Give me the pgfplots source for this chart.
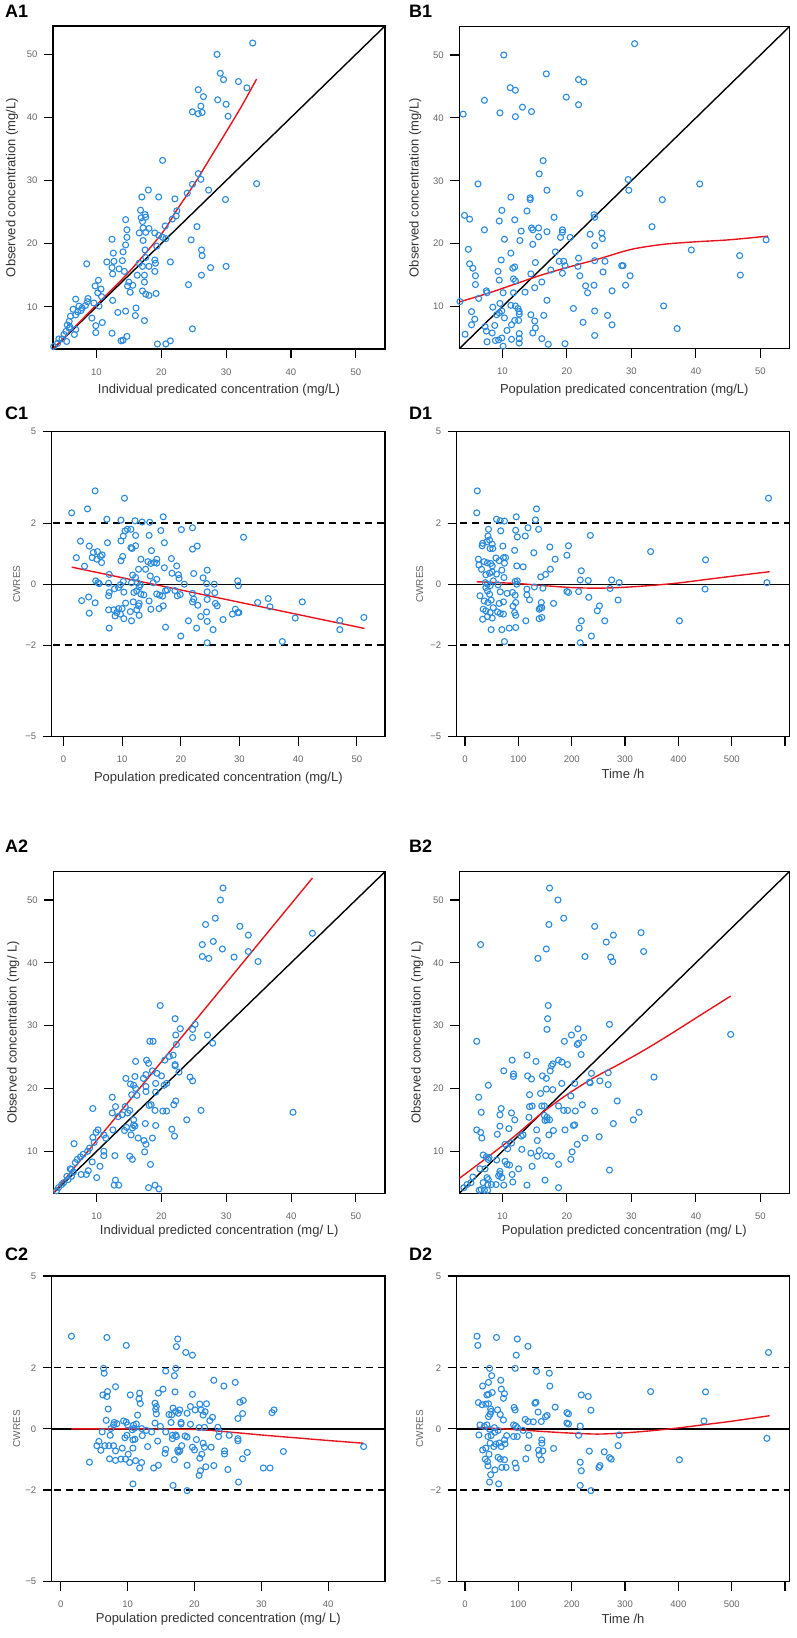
\documentclass[border=0pt]{standalone}
\usepackage{fontspec}
\setmainfont{Liberation Sans}
\usepackage{pgfplots}
\pgfplotsset{compat=1.18}
\definecolor{ptblue}{HTML}{2B8BE0}
\definecolor{fitred}{HTML}{E8141B}
\definecolor{tickgray}{HTML}{666666}
\definecolor{labgray}{HTML}{333333}
\pgfplotsset{
 base/.style={scale only axis, anchor=north west,
   axis line style={line width=1.4pt},
   every tick/.style={black,line width=1.1pt},
   tick align=outside, tick pos=left, major tick length=9pt,
   /pgf/number format/assume math mode=true,
   ticklabel style={font=\fontsize{9.5}{10}\selectfont, text=tickgray},
   xticklabel style={yshift=-7pt}, yticklabel style={xshift=-3pt},
   label style={font=\fontsize{13}{15}\selectfont, text=labgray},
   clip=true},
 obs/.style={base, xmin=3.3,xmax=54.5,ymin=3.3,ymax=54.5,
   xtick={10,20,30,40,50}, ytick={10,20,30,40,50}},
 res/.style={base, ymin=-5,ymax=5, ytick={-5,-2,0,2,5},
   yticklabels={−5,−2,0,2,5},
   ylabel={CWRES}, ylabel style={font=\fontsize{10}{10}\selectfont, text=tickgray}},
 xlab/.style={xlabel style={at={([yshift=-#1]axis description cs:0.5,0)}, anchor=center}},
 ylab/.style={ylabel style={at={([xshift=-#1]axis description cs:0,0.5)}, anchor=center}},
 pts/.style={only marks, mark=o, mark size=3pt, mark options={draw=ptblue, line width=1.1pt}},
 fit/.style={fitred, line width=1.4pt, smooth, no marks},
 idl/.style={black, line width=1.4pt, no marks},
 zero/.style={black, line width=1.3pt, no marks},
 lim/.style={black, line width=1.5pt, dash pattern=on 7pt off 5pt, no marks}
}
\newcommand{\plabel}[3]{\node[anchor=north west, inner sep=0pt, font=\fontsize{18}{18}\selectfont\bfseries] at (#1pt,-#2pt) {#3};}
\begin{document}
\begin{tikzpicture}
\path (0pt,0pt) rectangle (797pt,-1638pt);
\plabel{5}{5}{A1}
\plabel{409}{5}{B1}
\plabel{5}{407}{C1}
\plabel{409}{407}{D1}
\plabel{5}{840}{A2}
\plabel{409}{840}{B2}
\plabel{5}{1248}{C2}
\plabel{409}{1248}{D2}

% A1
\begin{axis}[obs, at={(53pt,-26pt)}, width=332pt, height=323pt,
 xlabel={Individual predicated concentration (mg/L)}, ylabel={Observed concentration (mg/L)},
 xlab=41pt, ylab=41pt]
\addplot[idl] coordinates {(0,0)(60,60)};
\addplot[pts] coordinates {
(34.1,51.8)(28.6,50.0)(29.1,47.0)(29.6,46.0)(31.9,45.7)(33.2,44.7)(25.7,44.4)(26.5,43.3)(28.7,42.8)(30.0,42.1)
(26.1,41.8)(24.8,40.9)(25.7,40.6)(26.3,40.8)(30.3,40.2)(20.2,33.2)(25.7,31.1)(26.1,30.2)(24.8,29.4)(34.7,29.5)
(27.3,28.5)(24.0,28.0)(18.0,28.5)(17.0,27.4)(19.6,27.4)(22.1,27.1)(29.9,27.0)(22.4,25.2)(22.3,24.4)(16.8,25.3)
(14.5,23.8)(21.7,23.9)(17.5,24.6)(17.6,24.2)(16.9,24.1)(17.1,23.5)(14.7,22.2)(17.2,22.5)(18.1,22.4)(16.6,21.7)
(17.6,21.8)(25.5,22.7)(20.6,22.8)(19.0,21.7)(19.6,21.3)(20.2,21.0)(20.7,20.8)(14.7,21.0)(12.4,20.7)(17.2,20.5)
(24.6,20.6)(14.5,19.8)(17.5,19.0)(26.2,19.0)(19.3,19.6)(12.6,18.5)(14.1,18.7)(26.3,18.1)(12.7,17.2)(14.0,17.3)
(11.6,17.1)(8.5,16.8)(17.6,17.8)(19.0,17.4)(19.1,16.9)(21.4,17.1)(16.6,16.9)(17.1,16.4)(18.1,16.4)(30.0,16.4)
(27.6,16.2)(12.4,16.2)(13.5,16.0)(14.3,15.6)(19.0,15.6)(16.3,15.0)(17.4,15.0)(26.2,15.0)(12.5,15.2)(10.3,14.2)
(15.0,13.9)(17.4,13.9)(9.8,13.3)(15.6,13.4)(14.8,13.3)(24.2,13.5)(10.7,12.8)(17.1,12.5)(15.2,12.3)(17.6,12.0)
(18.1,11.8)(19.2,12.1)(10.2,12.2)(12.5,11.0)(6.8,11.2)(8.7,11.3)(8.3,10.2)(7.8,9.8)(7.6,9.4)(7.1,9.2)
(9.6,10.6)(9.3,8.2)(13.3,9.1)(14.5,9.3)(16.1,9.8)(16.0,8.6)(17.4,7.8)(9.9,7.0)(10.9,7.5)(6.4,9.6)
(6.8,8.7)(6.0,8.5)(5.8,7.7)(5.5,7.1)(5.9,6.8)(6.8,6.4)(6.6,5.6)(5.4,4.5)(9.9,5.9)(12.4,5.8)
(14.7,5.3)(24.8,6.5)(13.8,4.6)(14.1,4.7)(19.4,4.1)(20.7,4.1)(21.4,4.6)(4.2,4.9)(4.7,4.9)(4.0,4.2)
(3.4,3.7)(8.9,3.2)(6.0,3.2)(5.0,5.6)(5.3,6.1)(5.8,6.6)(7.3,10.1)(8.6,10.8)(10.4,10.1)(10.8,11.6)
};
\addplot[fit] coordinates {(3.3,3.3)(10,10.3)(15,15.5)(20,21.5)(22.5,25.5)(25,29.3)(27.5,33.5)(30,37.7)(32.5,42)(34.7,46.1)};
\end{axis}

% B1
\begin{axis}[obs, at={(459.3pt,-26.7pt)}, width=330pt, height=322pt,
 xlabel={Population predicated concentration (mg/L)}, ylabel={Observed concentration (mg/L)},
 xlab=41pt, ylab=44pt]
\addplot[idl] coordinates {(0,0)(60,60)};
\addplot[pts] coordinates {
(30.5,51.8)(10.2,50.0)(16.8,47.0)(21.8,46.1)(22.6,45.7)(11.2,44.8)(12.0,44.4)(7.2,42.8)(19.9,43.3)(21.8,42.1)
(13.1,41.7)(3.9,40.6)(9.6,40.8)(14.5,41.0)(12.0,40.2)(16.3,33.2)(15.7,31.1)(6.2,29.5)(29.5,30.2)(29.6,28.5)
(40.6,29.5)(16.9,28.5)(22.0,28.0)(11.3,27.4)(14.3,27.3)(14.3,27.0)(34.8,27.0)(9.9,25.3)(13.8,25.2)(4.1,24.5)
(4.9,23.9)(9.5,23.6)(11.9,23.8)(18.0,24.2)(24.2,24.6)(24.3,24.2)(7.2,22.2)(12.9,22.0)(14.5,22.5)(14.7,22.2)
(15.6,22.5)(16.9,21.9)(19.3,22.2)(19.3,21.8)(33.2,22.7)(10.3,20.7)(12.7,20.5)(15.6,21.1)(19.0,21.0)(20.5,21.0)
(23.6,21.5)(25.4,21.7)(25.5,20.8)(50.9,20.6)(4.7,19.1)(14.7,19.9)(24.3,19.7)(39.3,19.0)(9.8,17.4)(11.3,18.5)
(15.1,17.0)(18.2,18.7)(18.8,17.2)(19.5,17.2)(19.7,16.5)(21.8,17.7)(25.9,17.2)(24.3,17.3)(46.8,18.1)(4.9,16.8)
(5.4,16.1)(9.3,15.6)(11.6,16.1)(11.9,16.3)(14.4,15.2)(17.5,15.8)(19.3,15.3)(21.7,16.4)(25.6,15.5)(28.5,16.5)
(28.7,16.5)(46.9,15.0)(5.8,14.9)(9.5,14.2)(11.7,14.4)(12.0,14.1)(16.1,13.9)(22.0,14.9)(29.8,14.9)(5.8,13.5)
(15.0,13.0)(22.9,13.3)(24.2,13.4)(29.1,13.4)(7.5,12.5)(7.6,12.2)(10.1,12.2)(11.7,12.2)(13.5,12.3)(23.2,12.2)
(27.0,12.5)(3.4,10.8)(6.3,11.3)(16.9,11.0)(8.5,9.9)(9.6,10.5)(9.9,9.3)(11.3,10.2)(12.0,10.1)(12.4,9.7)
(12.6,9.2)(12.6,8.8)(5.2,9.2)(21.0,9.7)(24.3,9.3)(35.0,10.1)(9.1,8.7)(9.5,9.0)(10.3,8.2)(14.4,8.7)
(16.4,8.6)(26.3,8.6)(5.7,8.0)(5.2,7.1)(11.9,7.8)(12.5,7.8)(15.0,7.7)(22.5,7.5)(7.3,6.8)(7.5,6.1)
(8.8,7.0)(11.4,7.1)(15.1,6.6)(27.0,7.1)(37.1,6.5)(4.2,5.6)(7.6,4.4)(8.4,5.8)(8.9,4.6)(9.4,4.7)
(9.9,5.0)(10.1,3.7)(10.7,6.2)(11.4,4.8)(12.6,5.7)(12.6,4.9)(12.6,4.2)(14.7,5.8)(16.1,4.9)(17.1,4.0)
(19.7,4.1)(24.3,5.4)(4.2,3.2)(4.9,3.2)(11.8,3.2)
};
\addplot[fit] coordinates {(3.2,10.7)(8,12.2)(12,13.6)(16,15.0)(20,16.2)(25,17.6)(30,19.1)(35,19.9)(40,20.3)(45,20.6)(51.2,21.2)};
\end{axis}

% C1
\begin{axis}[res, at={(51.7pt,-431.7pt)}, width=333.3pt, height=305pt,
 xmin=-2, xmax=54.8, xtick={0,10,20,30,40,50},
 xlabel={Population predicated concentration (mg/L)}, xlab=41pt, ylab=35pt]
\addplot[zero] coordinates {(-10,0)(100,0)};
\addplot[lim] coordinates {(-10,2)(100,2)};
\addplot[lim] coordinates {(-10,-2)(100,-2)};
\addplot[pts] coordinates {
(5.4,3.06)(10.4,2.82)(1.4,2.34)(4.1,2.47)(7.4,2.13)(9.8,2.10)(12.2,2.08)(13.4,2.04)(14.7,2.03)(17.0,2.21)
(10.5,1.75)(10.9,1.80)(11.5,1.80)(12.3,1.60)(14.6,1.60)(16.6,1.76)(20.1,1.79)(22.0,1.85)(30.7,1.54)(2.9,1.41)
(4.4,1.25)(7.5,1.36)(9.8,1.42)(10.2,1.58)(11.5,1.20)(11.7,1.17)(12.3,1.26)(15.0,1.10)(17.2,1.36)(22.0,1.15)
(22.8,1.25)(2.2,0.87)(5.1,1.04)(5.8,1.07)(6.3,0.91)(6.6,0.96)(4.9,0.87)(5.7,0.82)(6.5,0.71)(10.1,0.91)
(9.8,0.77)(13.2,0.82)(14.4,0.74)(14.9,0.68)(15.9,0.82)(15.9,0.69)(15.5,0.71)(18.4,0.84)(3.6,0.59)(12.8,0.49)
(14.0,0.49)(17.2,0.54)(19.3,0.60)(18.5,0.36)(19.6,0.31)(19.7,0.19)(22.2,0.35)(23.8,0.21)(24.5,0.46)(7.8,0.32)
(11.8,0.30)(12.3,0.22)(14.8,0.27)(15.9,0.16)(5.5,0.11)(5.9,0.05)(6.1,0.02)(7.7,0.03)(10.2,0.09)(9.7,-0.02)
(11.6,0.05)(12.6,0.05)(12.9,-0.09)(13.1,-0.02)(15.3,0.05)(20.6,0)(24.4,0.02)(25.7,0)(29.7,0.11)(29.8,-0.05)
(8.7,-0.15)(9.4,-0.11)(10.3,-0.26)(12.0,-0.27)(12.5,-0.22)(7.8,-0.27)(7.7,-0.38)(13.7,-0.35)(13.2,-0.32)(15.9,-0.32)
(16.4,-0.36)(16.9,-0.39)(17.4,-0.21)(17.7,-0.19)(19.0,-0.21)(19.9,-0.34)(19.4,-0.38)(22.0,-0.30)(22.2,-0.49)(22.0,-0.58)
(24.5,-0.25)(24.5,-0.50)(25.8,-0.28)(3.1,-0.54)(4.3,-0.42)(5.4,-0.61)(11.9,-0.58)(12.9,-0.63)(12.8,-0.71)(10.6,-0.62)
(14.6,-0.55)(22.9,-0.69)(25.9,-0.63)(26.2,-0.71)(33.1,-0.60)(34.9,-0.47)(35.2,-0.74)(40.7,-0.58)(4.4,-0.95)(7.7,-0.84)
(8.6,-0.84)(9.1,-0.93)(9.4,-0.80)(10.0,-0.80)(8.8,-1.04)(9.7,-0.98)(10.3,-1.13)(11.4,-0.90)(12.5,-0.84)(12.9,-1.02)
(11.6,-1.20)(14.9,-0.82)(16.3,-0.80)(17.0,-0.71)(23.4,-1.06)(21.3,-1.20)(24.4,-0.91)(24.5,-1.22)(27.2,-1.16)(28.8,-0.98)
(29.3,-0.82)(29.7,-0.93)(29.9,-0.93)(39.5,-1.11)(47.1,-1.19)(51.2,-1.09)(7.8,-1.44)(17.4,-1.41)(22.7,-1.44)(25.5,-1.49)
(47.1,-1.49)(20.0,-1.70)(24.5,-1.92)(37.3,-1.88)
};
\addplot[fit] coordinates {(1.4,0.56)(51.3,-1.45)};
\end{axis}

% D1
\begin{axis}[res, at={(456.7pt,-431.7pt)}, width=332.6pt, height=305pt,
 xmin=-15.6, xmax=608, xtick={0,100,200,300,400,500,600}, xticklabels={0,100,200,300,400,500,},
 xlabel={Time /h}, xlab=37pt, ylab=37pt]
\addplot[zero] coordinates {(-100,0)(700,0)};
\addplot[lim] coordinates {(-100,2)(700,2)};
\addplot[lim] coordinates {(-100,-2)(700,-2)};
\addplot[pts] coordinates {
(23,3.06)(569,2.82)(22,2.34)(134,2.47)(59,2.13)(66,2.08)(74,2.07)(96,2.21)(132,2.11)(44,1.80)
(67,1.75)(95,1.77)(118,1.85)(138,1.80)(43,1.58)(46,1.45)(98,1.55)(113,1.58)(235,1.60)(33,1.34)
(32,1.26)(41,1.39)(51,1.31)(47,1.17)(52,1.17)(71,1.25)(93,1.11)(129,1.03)(159,1.22)(194,1.26)
(191,0.95)(348,1.07)(25,0.82)(26,0.63)(36,0.74)(42,0.70)(31,0.49)(48,0.68)(51,0.60)(58,0.86)
(64,0.77)(72,0.87)(76,0.87)(74,0.69)(69,0.46)(97,0.60)(109,0.57)(169,0.82)(160,0.49)(151,0.32)
(142,0.24)(218,0.44)(451,0.80)(39,0.31)(46,0.36)(51,0.40)(59,0.33)(73,0.22)(94,0.09)(98,0.11)
(216,0.14)(231,0.12)(275,0.14)(289,0.05)(566,0.05)(38,0.05)(42,0)(47,-0.05)(53,0.11)(62,-0.02)
(97,0)(39,-0.11)(42,-0.22)(46,-0.33)(28,-0.38)(66,-0.25)(79,-0.30)(89,-0.27)(94,-0.36)(116,-0.16)
(116,-0.35)(130,-0.09)(146,-0.13)(191,-0.24)(194,-0.27)(213,-0.24)(272,-0.14)(450,-0.16)(36,-0.55)(43,-0.60)
(49,-0.52)(64,-0.63)(72,-0.58)(90,-0.72)(95,-0.60)(121,-0.51)(143,-0.60)(166,-0.63)(232,-0.43)(287,-0.52)
(34,-0.82)(39,-0.87)(47,-0.93)(53,-0.77)(61,-0.91)(66,-0.96)(72,-0.98)(93,-0.93)(95,-1.02)(139,-0.82)
(141,-0.78)(144,-0.77)(252,-0.71)(248,-0.87)(33,-1.15)(42,-1.06)(51,-1.11)(139,-1.13)(144,-1.09)(114,-1.20)
(218,-1.20)(262,-1.20)(402,-1.20)(49,-1.49)(69,-1.49)(83,-1.44)(95,-1.42)(214,-1.44)(237,-1.70)(74,-1.88)
(216,-1.92)
};
\addplot[fit] coordinates {(22,0.08)(50,0.06)(100,0.02)(150,-0.05)(200,-0.11)(250,-0.13)(300,-0.10)(350,-0.04)(400,0.04)(450,0.15)(500,0.26)(571,0.41)};
\end{axis}

% A2
\begin{axis}[obs, at={(53.3pt,-871.7pt)}, width=331.7pt, height=321.6pt,
 xlabel={Individual predicted concentration (mg/ L)}, ylabel={Observed concentration (mg/ L)},
 xlab=38pt, ylab=40pt]
\addplot[idl] coordinates {(0,0)(60,60)};
\addplot[pts] coordinates {
(29.5,51.9)(29.1,50.0)(28.3,47.1)(26.8,46.1)(32.1,45.8)(33.4,44.4)(43.3,44.7)(28.0,43.4)(26.3,42.9)(29.4,42.2)
(33.4,41.8)(26.3,41.0)(27.3,40.7)(31.2,40.9)(34.9,40.2)(19.8,33.2)(22.1,31.1)(25.2,30.2)(22.9,29.5)(24.8,29.4)
(22.2,28.5)(27.1,28.5)(24.8,28.1)(27.9,27.2)(22.3,27.0)(18.2,27.5)(18.7,27.5)(21.2,25.1)(21.8,25.3)(20.5,24.5)
(22.1,23.8)(22.1,23.6)(17.7,24.5)(18.0,24.0)(16.0,24.3)(22.7,22.6)(18.6,22.8)(19.3,22.4)(15.9,21.9)(17.6,22.2)
(17.2,21.6)(14.5,21.6)(20.0,22.0)(24.4,21.8)(24.8,21.2)(15.2,20.7)(15.7,20.5)(20.4,20.5)(20.8,20.8)(16.0,20.0)
(16.2,18.9)(17.6,20.3)(17.6,19.5)(15.4,19.0)(19.1,20.8)(12.4,18.6)(19.1,19.4)(21.9,17.4)(22.2,18.0)(18.1,17.3)
(18.4,17.4)(12.9,17.1)(14.4,17.1)(9.4,16.8)(12.4,16.1)(19.0,16.5)(20.2,16.4)(20.8,16.4)(26.1,16.5)(40.3,16.2)
(13.3,15.5)(13.9,15.8)(14.8,16.1)(15.1,16.5)(15.7,15.0)(15.7,14.2)(15.9,14.0)(17.5,14.4)(19.1,14.1)(23.9,15.0)
(14.3,13.3)(14.6,13.8)(12.5,13.4)(15.3,12.6)(15.5,13.7)(16.4,12.1)(18.6,12.1)(21.6,13.5)(22.0,12.4)(10.2,13.4)
(9.9,13.0)(11.1,12.6)(11.4,12.1)(17.3,11.7)(17.6,11.1)(9.4,12.2)(9.6,11.4)(6.5,11.2)(17.4,9.9)(8.9,10.5)
(8.6,10.0)(11.1,10.0)(11.1,9.3)(12.8,9.3)(15.1,9.2)(15.5,8.7)(9.3,8.3)(7.9,9.5)(7.5,9.1)(7.0,8.7)
(6.7,8.2)(6.1,7.1)(5.9,7.2)(10.5,7.6)(18.3,7.9)(8.7,6.9)(8.4,6.3)(7.6,6.3)(6.4,6.7)(6.1,6.0)
(10.0,5.8)(5.4,6.0)(5.6,5.5)(4.9,5.0)(4.6,4.7)(4.1,4.2)(3.8,3.7)(12.9,5.4)(12.7,4.6)(13.4,4.6)
(18.0,4.2)(19.0,4.6)(19.6,4.0)(8.6,3.1)
};
\addplot[fit] coordinates {(3.3,3.3)(43.3,53.5)};
\end{axis}

% B2
\begin{axis}[obs, at={(459.3pt,-871.7pt)}, width=330pt, height=321.6pt,
 xlabel={Population predicted concentration (mg/ L)}, ylabel={Observed concentration (mg/ L)},
 xlab=38pt, ylab=42pt]
\addplot[idl] coordinates {(0,0)(60,60)};
\addplot[pts] coordinates {
(17.3,51.9)(18.6,50.0)(19.5,47.1)(17.2,46.1)(24.3,45.8)(31.5,44.8)(27.2,44.4)(26.1,43.3)(6.6,42.9)(16.8,42.2)
(31.9,41.8)(22.8,41.0)(15.5,40.7)(26.8,40.9)(27.1,40.2)(17.1,33.2)(17.0,31.1)(16.9,29.4)(26.6,30.2)(21.7,29.5)
(20.7,28.5)(22.6,28.1)(45.4,28.6)(6.0,27.5)(19.6,27.5)(21.6,27.0)(21.8,27.2)(22.2,25.4)(11.5,24.5)(13.8,25.3)
(15.2,24.3)(18.7,24.5)(19.2,24.2)(20.1,23.8)(17.6,23.6)(17.8,23.9)(10.2,22.8)(11.7,22.3)(11.7,21.9)(13.9,22.0)
(14.5,21.5)(16.2,22.0)(16.8,21.6)(17.4,22.8)(23.8,22.4)(23.5,21.0)(23.6,20.9)(25.1,21.2)(26.4,22.5)(26.4,20.6)
(33.5,21.8)(7.8,20.5)(19.2,20.8)(21.2,20.8)(16.8,19.9)(17.8,19.8)(14.2,19.0)(14.2,17.1)(15.9,19.2)(6.3,18.6)
(14.6,17.2)(16.1,17.2)(16.5,17.2)(18.7,17.2)(20.6,18.8)(22.4,17.4)(27.8,18.0)(6.7,16.2)(9.8,16.8)(9.6,15.8)
(11.4,16.1)(11.9,15.0)(14.1,15.4)(16.5,15.7)(16.9,15.4)(16.6,14.9)(16.9,15.0)(17.3,15.0)(19.5,16.5)(20.1,16.5)
(21.3,16.4)(24.3,16.4)(31.2,16.2)(30.3,15.0)(6.0,13.4)(6.6,13.0)(6.8,12.1)(9.2,12.7)(9.6,14.0)(11.0,13.6)
(12.9,12.4)(13.2,12.6)(15.3,13.4)(15.4,11.7)(17.2,12.6)(17.9,13.3)(19.7,13.4)(21.0,14.1)(21.2,14.2)(22.8,12.1)
(25.0,12.3)(27.2,14.4)(11.4,11.3)(10.4,11.1)(10.8,10.4)(13.0,10.3)(14.4,9.7)(15.7,10.1)(21.6,11.1)(20.8,9.9)
(20.6,8.7)(7.0,9.4)(7.5,9.1)(7.8,8.7)(7.9,9.0)(9.1,8.6)(10.4,8.4)(10.7,7.9)(11.1,7.8)(15.4,9.2)
(16.7,9.3)(17.6,9.2)(18.7,7.9)(12.5,7.2)(14.6,7.6)(6.5,7.2)(7.3,7.2)(9.6,6.8)(9.6,6.4)(26.6,7.0)
(9.4,6.1)(9.9,5.8)(11.5,6.3)(5.4,5.9)(5.1,5.0)(4.5,4.7)(4.0,4.2)(7.6,5.8)(7.8,5.5)(7.0,5.0)
(7.7,4.7)(8.3,4.7)(16.6,5.4)(11.6,5.1)(9.0,4.7)(13.8,4.6)(10.2,4.6)(6.7,3.9)(7.2,3.8)(7.7,3.8)
(6.4,3.8)(18.7,4.2)
};
\addplot[fit] coordinates {(3.2,5.6)(8,9.3)(12,12.5)(16,16.0)(20,19.0)(24,21.6)(28,23.8)(32,26.1)(36,28.6)(40,31.2)(45.4,34.7)};
\end{axis}

% C2
\begin{axis}[res, at={(51.7pt,-1276pt)}, width=333.3pt, height=305.7pt,
 xmin=-1.35, xmax=48.5, xtick={0,10,20,30,40},
 xlabel={Population predicted concentration (mg/ L)}, xlab=37pt, ylab=35pt]
\addplot[zero] coordinates {(-10,0)(100,0)};
\addplot[lim] coordinates {(-10,2)(100,2)};
\addplot[lim] coordinates {(-10,-2)(100,-2)};
\addplot[pts] coordinates {
(1.6,3.03)(6.9,2.99)(9.8,2.73)(17.5,2.94)(17.3,2.69)(18.7,2.50)(19.7,2.41)(6.4,1.98)(6.5,1.82)(17.2,1.98)
(17.0,1.74)(15.7,1.89)(22.9,1.59)(24.4,1.40)(26.1,1.52)(8.2,1.38)(7.0,1.22)(6.3,1.11)(6.9,1.06)(10.4,1.11)
(11.8,1.17)(11.7,0.98)(11.9,0.83)(15.3,1.30)(14.6,1.17)(17.1,1.21)(19.7,1.13)(14.1,0.84)(14.3,0.73)(14.3,0.49)
(14.2,0.64)(11.5,0.45)(7.1,0.65)(6.8,0.28)(16.8,0.68)(17.2,0.57)(17.8,0.62)(17.6,0.51)(16.2,0.47)(16.6,0.46)
(19.4,0.73)(20.8,0.81)(21.8,0.82)(20.1,0.62)(21.0,0.62)(21.6,0.56)(21.3,0.45)(18.9,0.51)(22.7,0.38)(22.3,0.27)
(26.8,0.87)(27.3,0.93)(27.2,0.50)(26.5,0.34)(31.6,0.53)(31.9,0.62)(8.0,0.21)(8.4,0.17)(7.9,0.13)(9.4,0.26)
(9.8,0.22)(10.0,0.13)(10.9,0.12)(11.3,0.16)(14.1,0.19)(14.9,0.08)(16.5,0.21)(18.0,0.21)(18.0,0.16)(19.4,0.15)
(20.7,0.04)(21.5,0.05)(23.5,0.05)(6.2,-0.10)(7.5,0.01)(7.4,-0.21)(10.7,-0.03)(11.0,0.02)(12.1,0.01)(12.8,-0.05)
(13.6,-0.10)(15.7,-0.10)(16.7,-0.21)(16.7,-0.32)(17.2,-0.20)(17.3,-0.25)(18.6,-0.23)(18.9,-0.27)(23.7,-0.09)(23.6,-0.25)
(25.2,-0.21)(26.5,-0.32)(26.5,-0.39)(9.9,-0.21)(9.6,-0.29)(10.8,-0.36)(11.1,-0.34)(12.2,-0.22)(5.7,-0.41)(5.4,-0.55)
(6.0,-0.70)(6.6,-0.55)(7.2,-0.55)(7.9,-0.55)(8.2,-0.72)(9.2,-0.63)(10.8,-0.63)(10.1,-0.83)(13.0,-0.58)(14.5,-0.40)
(15.7,-0.67)(15.6,-0.80)(17.5,-0.70)(17.6,-0.76)(17.8,-0.72)(18.1,-0.55)(19.7,-0.60)(20.0,-0.69)(20.3,-0.35)(21.3,-0.47)
(21.5,-0.60)(21.1,-0.83)(20.8,-0.96)(22.5,-0.60)(24.5,-0.72)(24.5,-0.82)(27.9,-0.77)(33.3,-0.74)(45.3,-0.58)(7.3,-0.98)
(8.2,-1.03)(9.0,-0.99)(9.7,-0.99)(10.3,-1.10)(11.2,-1.04)(12.1,-1.10)(4.3,-1.09)(11.8,-1.28)(13.9,-1.28)(14.6,-1.19)
(17.0,-1.01)(18.9,-1.19)(20.9,-1.37)(20.7,-1.52)(21.7,-1.24)(22.9,-1.20)(25.0,-1.33)(27.2,-0.98)(30.3,-1.28)(31.3,-1.28)
(10.8,-1.80)(16.8,-1.85)(26.6,-1.74)(18.9,-2.02)
};
\addplot[fit] coordinates {(1.6,0)(10,0)(20,-0.02)(25,-0.1)(30,-0.2)(35,-0.29)(40,-0.38)(45.3,-0.47)};
\end{axis}

% D2
\begin{axis}[res, at={(456.7pt,-1276pt)}, width=332.6pt, height=305.7pt,
 xmin=-15.6, xmax=608, xtick={0,100,200,300,400,500,600}, xticklabels={0,100,200,300,400,500,},
 xlabel={Time /h}, xlab=37pt, ylab=37pt]
\addplot[zero] coordinates {(-100,0)(700,0)};
\addplot[lim] coordinates {(-100,2)(700,2)};
\addplot[lim] coordinates {(-100,-2)(700,-2)};
\addplot[pts] coordinates {
(22.5,3.03)(24,2.73)(59,2.99)(98,2.94)(118,2.70)(96,2.41)(569,2.50)(46,1.98)(94,1.98)(50,1.74)
(134,1.88)(158,1.82)(67,1.59)(44,1.52)(33,1.40)(68,1.30)(74,1.15)(159,1.40)(41,1.11)(44,1.13)
(51,1.19)(72,1.00)(218,1.11)(231,1.06)(348,1.22)(451,1.21)(25,0.86)(32,0.79)(39,0.81)(44,0.82)
(48,0.65)(49,0.57)(47,0.48)(44,0.40)(61,0.62)(66,0.47)(72,0.29)(92,0.70)(94,0.62)(131,0.84)
(133,0.87)(137,0.55)(151,0.40)(154,0.44)(169,0.71)(191,0.53)(194,0.49)(236,0.61)(113,0.31)(118,0.24)
(128,0.23)(143,0.24)(191,0.19)(194,0.16)(216,0.09)(448,0.26)(28,0.13)(36,0.08)(41,0.13)(46,-0.01)
(55,0.04)(56,-0.11)(62,-0.05)(91,0.13)(95,0.10)(98,0.04)(109,-0.05)(26,-0.20)(43,-0.25)(49,-0.22)
(78,-0.22)(91,-0.25)(98,-0.25)(120,-0.21)(213,-0.21)(289,-0.20)(566,-0.31)(33,-0.69)(39,-0.63)(47,-0.47)
(54,-0.58)(58,-0.50)(64,-0.46)(68,-0.58)(74,-0.36)(75,-0.49)(45,-0.83)(144,-0.36)(144,-0.47)(138,-0.70)
(139,-0.85)(146,-0.72)(166,-0.64)(118,-0.62)(233,-0.73)(261,-0.75)(287,-0.55)(38,-0.99)(42,-1.07)(43,-1.21)
(62,-0.93)(66,-0.99)(74,-1.01)(94,-1.12)(114,-0.98)(143,-1.01)(216,-1.09)(271,-0.94)(274,-0.99)(402,-1.01)
(56,-1.34)(69,-1.26)(77,-1.26)(96,-1.28)(218,-1.37)(251,-1.26)(253,-1.20)(48,-1.50)(46,-1.74)(63,-1.80)
(216,-1.85)(236,-2.02)
};
\addplot[fit] coordinates {(22,0.05)(50,0.02)(100,-0.03)(150,-0.09)(200,-0.14)(250,-0.17)(300,-0.13)(350,-0.06)(400,0.03)(450,0.14)(500,0.25)(571,0.43)};
\end{axis}
\end{tikzpicture}
\end{document}
